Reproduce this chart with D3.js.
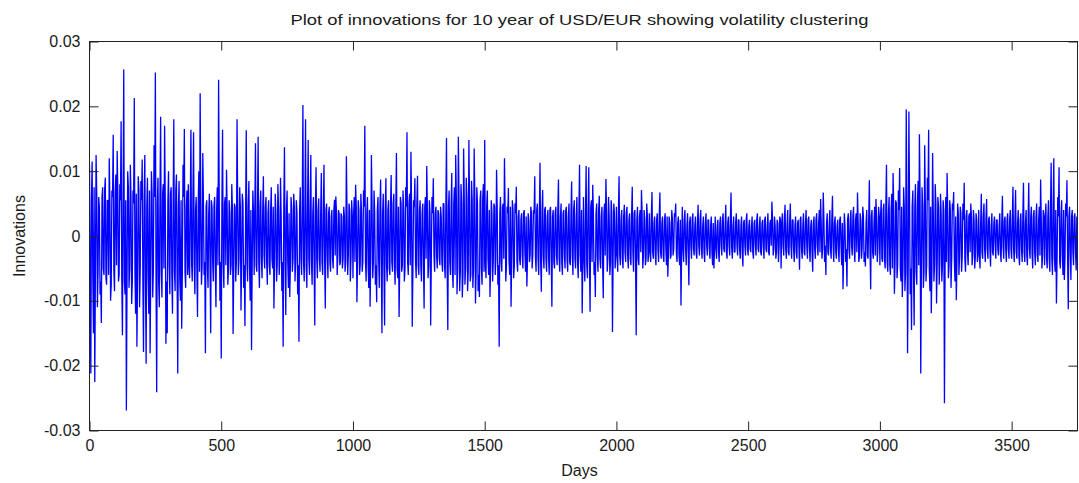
<!DOCTYPE html>
<html>
<head>
<meta charset="utf-8">
<script src="https://cdn.jsdelivr.net/npm/d3@7"></script>
<style>
  body { margin: 0; background: #fff; }
  svg { display: block; }
  text { font-family: "Liberation Sans", Arial, Helvetica, sans-serif; fill: #1a1a1a; }
</style>
</head>
<body>
<svg id="chart" width="1079" height="483"></svg>
<script>
// USD/EUR innovations in basis points (1 bp = 0.0001).
// innovationsBp holds samples at days 0, 5, 10, ...; midInnovationsBp holds the samples
// that fall half-way between them (days 2.5, 7.5, ...).
const sampleSpacingDays = 5;
const innovationsBp = [
  110,-212,115,-150,-225,125,-110,60,-90,-134,75,-60,90,-75,55,120,-100,70,156,-85,95,131,-70,80,177,
  -153,257,-90,-269,100,-80,110,-105,70,213,-120,-171,92,-110,85,118,-179,125,-197,90,-120,-181,100,-95,140,
  252,-241,90,-110,184,-95,80,170,-166,-150,100,-90,75,-120,180,-85,95,-212,85,-100,-143,110,165,-80,70,
  80,-65,164,-70,160,-90,60,-125,100,220,-75,128,-60,-181,55,-80,65,-150,45,-70,60,-110,75,241,-100,
  -189,164,-80,60,102,-75,55,-60,80,-151,50,-70,180,-60,75,-115,65,-80,-139,163,-70,85,-100,-176,70,
  -60,143,-55,153,-80,70,-65,92,-50,60,-75,55,-60,75,-50,-112,65,-70,80,-60,90,-85,-171,137,-122,
  70,-80,-94,60,-55,65,-70,55,-90,-163,75,-60,202,-70,180,-80,148,-60,125,-75,60,-138,106,-65,58,
  -55,97,-60,110,-112,50,-65,45,-55,40,-50,56,61,-60,40,-45,35,-50,45,-55,123,-60,50,-70,55,
  -65,60,79,-102,55,-60,65,-55,70,170,-70,60,-80,-109,125,-65,70,-75,-102,60,-80,87,-150,65,-138,
  89,-70,55,-60,94,-55,65,-75,128,-65,-125,60,-55,70,-70,75,160,-60,65,130,-140,55,89,-65,93,
  -60,55,-70,50,-112,60,108,-65,55,-138,60,89,-55,45,-50,35,-45,30,-55,50,-65,151,-145,70,-60,
  97,-80,75,125,-90,153,-85,80,-95,135,-75,90,-85,148,-70,85,-80,135,-104,75,-85,-94,70,-75,80,
  148,-65,70,-60,-94,55,-70,50,-60,102,-75,-171,60,-55,50,120,-70,45,74,-60,-109,55,-65,50,76,
  -55,40,-45,35,-50,40,-55,-78,35,-40,45,-50,40,92,-55,50,-60,113,-86,71,-50,45,-55,40,-60,
  45,-109,40,-50,45,-45,87,-55,50,-60,40,-50,45,-55,50,-45,84,-60,55,-50,60,-65,110,-55,-119,
  60,-70,108,-65,106,-117,55,79,-60,-94,50,-55,62,-50,45,-96,50,88,-55,60,-60,55,-148,50,-50,
  45,-55,92,-45,40,-50,48,-40,45,-50,35,-45,76,-55,40,-153,45,-45,40,71,-50,40,-45,50,-40,
  35,-40,68,-35,30,-45,35,-40,67,-35,30,-40,35,-45,-63,30,-35,40,-30,35,50,-40,30,-45,-107,
  45,-40,40,-45,35,-76,30,-35,35,-30,30,-35,48,-30,40,-35,30,-40,35,-30,25,-35,30,-45,-50,
  30,-35,25,-40,30,-30,35,-25,48,-35,30,-30,67,-35,30,-25,35,-30,25,-35,30,-47,25,-30,35,
  -30,25,-25,30,-35,25,-30,35,-25,30,-30,25,-35,30,-25,35,-30,25,53,-30,30,-35,25,-40,30,
  -50,35,-30,48,-35,40,-30,50,-35,25,-40,30,-35,25,-52,30,-35,35,-30,40,-35,30,-40,25,-55,
  30,-35,35,-30,40,57,-35,67,-40,-60,35,-30,40,-35,62,-40,30,-35,25,-40,30,-45,-82,35,-40,
  -78,35,-35,40,-30,45,-40,35,67,-40,35,-35,45,-40,-47,40,-35,86,-82,40,-35,45,57,-40,45,
  -45,56,-40,50,-50,110,-55,60,-60,65,97,-89,55,-65,70,105,-70,-94,75,-85,195,-181,192,-90,-145,
  70,-138,80,-75,85,157,-212,75,-80,140,-70,90,164,-85,-119,128,-70,80,-104,60,-75,65,-70,55,-258,
  60,97,-65,55,-80,50,68,-70,-99,50,-60,45,-55,50,82,-55,40,-45,35,50,-45,40,-50,35,-40,
  40,-50,65,-35,50,-40,57,-35,30,-47,35,-30,30,-35,25,-30,35,-40,62,-35,30,-40,35,-35,40,
  -35,76,-40,71,-35,40,-45,35,-40,82,-40,40,-45,82,-35,45,-50,40,-45,50,-40,45,87,-50,40,
  -45,50,-50,55,-55,113,-60,120,-55,-104,60,106,-50,55,-60,-68,50,86,-113,45,-68,40,-45,35,-53
];

const midInnovationsBp = [
  -70,55,-60,75,-50,65,-55,45,-70,60,-50,70,-65,55,-60,50,-75,60,-55,65,-45,70,-60,55,-65,
  60,-70,55,-65,75,-50,60,-70,50,-55,65,-60,70,-50,55,-65,60,-70,45,-60,70,-55,65,-50,60,
  -65,50,-70,60,-55,65,-50,60,-70,55,-45,65,-60,50,-55,70,-60,45,-65,55,-50,60,-55,45,-60,
  -45,50,-40,55,-45,40,-50,45,-55,40,-45,50,-40,45,-50,35,-45,55,-40,45,-50,40,-45,50,-40,
  45,-40,50,-45,40,-50,35,-45,40,-50,45,-40,50,-35,45,-40,50,-45,35,-40,45,-50,40,-45,35,
  40,-45,35,-40,45,-35,40,-30,45,-40,35,-45,40,-35,45,-40,35,-45,40,-35,30,-40,45,-35,40,
  -40,35,-45,40,-35,45,-40,35,-45,40,-35,45,-40,35,-45,40,-35,45,-40,35,-40,45,-35,40,-35,
  35,-40,30,-35,40,-30,35,-40,30,-35,40,-30,35,-30,35,-40,30,-35,30,-40,35,-30,40,-35,30,
  35,-40,45,-35,40,-45,35,-40,45,-40,35,-45,40,-35,45,-40,35,-45,40,-35,45,-40,35,-45,40,
  -45,40,-50,45,-40,50,-45,40,-50,45,-40,50,-45,40,-50,45,-40,50,-45,40,-50,45,-40,50,-45,
  40,-45,35,-40,45,-35,40,-45,35,-30,35,-30,35,-30,40,-35,45,-40,50,-45,40,-50,45,-40,45,
  -55,50,-60,55,-50,60,-55,50,-60,55,-50,60,-55,50,-60,55,-50,60,-55,50,-60,55,-50,60,-55,
  -40,45,-35,40,-45,35,-40,45,-35,40,-45,35,-40,45,-35,40,-45,35,-40,45,-35,40,-45,35,-40,
  30,-35,25,-30,35,-25,30,-35,25,-30,35,-30,35,-30,40,-35,30,-40,35,-30,40,-35,30,-35,40,
  -35,30,-40,35,-30,40,-35,30,-40,35,-30,40,-35,30,-40,35,-30,40,-35,30,-40,35,-30,40,-35,
  -40,35,-45,40,-35,45,-40,35,-40,35,-30,40,-35,30,-40,35,-30,40,-35,30,-40,35,-30,35,-30,
  -30,35,-30,25,-35,30,-25,35,-30,25,-35,30,-25,35,-30,25,-35,30,-25,35,-30,25,-35,30,-25,
  -25,30,-25,20,-30,25,-20,30,-25,20,-30,25,-20,30,-25,20,-30,25,-20,30,-25,20,-30,25,-20,
  -20,25,-20,15,-25,20,-15,25,-20,15,-25,20,-15,25,-20,15,-25,20,-15,25,-20,15,-25,20,-15,
  -20,15,-25,20,-15,25,-20,15,-25,20,-15,25,-20,15,-25,20,-15,25,-20,15,-25,20,-15,25,-20,
  15,-20,15,-25,20,-15,25,-20,15,-25,20,-15,25,-20,15,-25,20,-15,25,-20,15,-25,20,-15,25,
  20,-15,25,-20,15,-25,20,-15,25,-20,15,-25,20,-15,25,-20,15,-25,20,-15,25,-20,15,-25,20,
  -20,25,-15,20,-25,15,-20,25,-15,20,-25,15,-20,25,-15,20,-25,15,-20,25,-15,20,-25,15,-20,
  25,-20,25,-15,30,-20,25,-25,20,-30,25,-20,30,-25,20,-30,25,-20,30,-25,20,-30,25,-20,30,
  30,-35,40,-35,45,-40,35,-45,40,-50,45,-40,50,-45,40,-50,45,-50,45,-55,50,-45,55,-50,45,
  -50,45,-55,50,-45,55,-50,45,-55,50,-45,55,-50,45,-50,40,-45,50,-40,45,-40,35,-45,40,-35,
  -40,35,-45,40,-35,40,-35,30,-40,35,-30,35,-30,25,-35,30,-25,30,-25,30,-30,25,-30,25,-30,
  -25,20,-25,30,-20,25,-20,25,-20,15,-25,20,-15,25,-20,15,-25,20,-15,25,-20,25,-20,25,-20,
  25,-20,25,-25,20,-30,25,-20,30,-25,20,-30,25,-20,30,-25,30,-25,30,-30,25,-30,25,-30,30,
  30,-35,30,-35,40,-35,40,-35,40,-35,30,-40,35,-30,40,-35,30,-35,30,-25,30,-25,30,-25,30
];

const dayTicks = [0, 500, 1000, 1500, 2000, 2500, 3000, 3500];
const valueTicks = [-0.03, -0.02, -0.01, 0, 0.01, 0.02, 0.03];
const valueTickLabels = ["-0.03", "-0.02", "-0.01", "0", "0.01", "0.02", "0.03"];

const titleText = "Plot of innovations for 10 year of USD/EUR showing volatility clustering";
const xLabelText = "Days";
const yLabelText = "Innovations";

// merge both sample sets into one time-ordered series
const series = [];
innovationsBp.forEach((bp, i) => {
  series.push({ day: i * sampleSpacingDays, value: bp / 10000 });
  if (i < midInnovationsBp.length) {
    series.push({ day: (i + 0.5) * sampleSpacingDays, value: midInnovationsBp[i] / 10000 });
  }
});

const svg = d3.select("#chart");
const W = 1079, H = 483;
const plot = { left: 89.5, right: 1077.5, top: 41.5, bottom: 430.5 };

const x = d3.scaleLinear().domain([0, 3750]).range([plot.left, plot.right]);
const y = d3.scaleLinear().domain([-0.03, 0.03]).range([plot.bottom, plot.top]);

svg.append("rect").attr("width", W).attr("height", H).attr("fill", "#fff");

// data line, clipped to the axes box
svg.append("clipPath").attr("id", "plotClip")
  .append("rect")
  .attr("x", plot.left).attr("y", plot.top)
  .attr("width", plot.right - plot.left).attr("height", plot.bottom - plot.top);

const line = d3.line().x(d => x(d.day)).y(d => y(d.value));
svg.append("path")
  .datum(series)
  .attr("clip-path", "url(#plotClip)")
  .attr("fill", "none")
  .attr("stroke", "#0000ff")
  .attr("stroke-width", 1.3)
  .attr("stroke-linejoin", "bevel")
  .attr("d", line);

// axes with inward ticks on all four sides
const tickLen = 9;
const styleAxis = g => {
  g.select(".domain").remove();
  g.selectAll(".tick line").attr("stroke", "#222").attr("stroke-width", 1);
  g.selectAll(".tick text").attr("fill", "#1a1a1a").style("font-size", "16px");
};

svg.append("g")
  .attr("transform", `translate(0,${plot.bottom})`)
  .call(d3.axisBottom(x).tickValues(dayTicks).tickFormat(d3.format("d"))
    .tickSizeInner(-tickLen).tickSizeOuter(0).tickPadding(9))
  .call(styleAxis);

svg.append("g")
  .attr("transform", `translate(0,${plot.top})`)
  .call(d3.axisTop(x).tickValues(dayTicks).tickFormat("")
    .tickSizeInner(-tickLen).tickSizeOuter(0))
  .call(styleAxis);

svg.append("g")
  .attr("transform", `translate(${plot.left},0)`)
  .call(d3.axisLeft(y).tickValues(valueTicks).tickFormat((d, i) => valueTickLabels[i])
    .tickSizeInner(-tickLen).tickSizeOuter(0).tickPadding(9))
  .call(styleAxis);

svg.append("g")
  .attr("transform", `translate(${plot.right},0)`)
  .call(d3.axisRight(y).tickValues(valueTicks).tickFormat("")
    .tickSizeInner(-tickLen).tickSizeOuter(0))
  .call(styleAxis);

// axes box
svg.append("rect")
  .attr("x", plot.left).attr("y", plot.top)
  .attr("width", plot.right - plot.left).attr("height", plot.bottom - plot.top)
  .attr("fill", "none").attr("stroke", "#222").attr("stroke-width", 1);

// title and axis labels
svg.append("text")
  .attr("x", (plot.left + plot.right) / 2 - 4).attr("y", 25)
  .attr("text-anchor", "middle")
  .style("font-size", "15px")
  .attr("textLength", 578).attr("lengthAdjust", "spacingAndGlyphs")
  .text(titleText);

svg.append("text")
  .attr("x", (plot.left + plot.right) / 2 - 4).attr("y", 476)
  .attr("text-anchor", "middle")
  .style("font-size", "16px")
  .text(xLabelText);

svg.append("text")
  .attr("transform", `translate(25,${(plot.top + plot.bottom) / 2}) rotate(-90)`)
  .attr("text-anchor", "middle")
  .style("font-size", "16px")
  .text(yLabelText);
</script>
</body>
</html>
